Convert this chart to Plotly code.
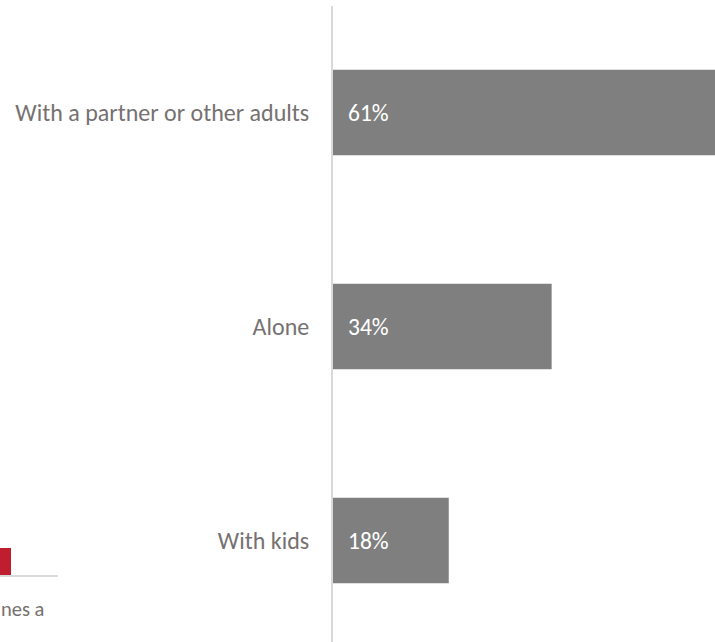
import plotly.graph_objects as go

categories = ["With a partner or other adults", "Alone", "With kids"]
values = [61, 34, 18]
value_labels = ["61%", "34%", "18%"]

W, H = 715, 642
L, R, T, B = 333, 0, 6, 0
pw, ph = W - L - R, H - T - B

def px2paper_x(px):
    return (px - L) / pw

def px2paper_y(py):
    return (H - B - py) / ph

positions = list(range(len(categories)))
FONT = "Carlito, Calibri, Lato, sans-serif"

fig = go.Figure()
fig.add_trace(go.Bar(
    x=values, y=positions, orientation="h",
    marker=dict(color="#7f7f7f", line=dict(width=0)),
    width=0.4, showlegend=False, hoverinfo="skip",
))

for v, p, t in zip(values, positions, value_labels):
    fig.add_annotation(x=0, y=p, xref="x", yref="y", text=t, showarrow=False,
                       xanchor="left", yanchor="middle", xshift=13,
                       font=dict(family=FONT, size=23.5, color="#ffffff"))

# cropped fragment of a neighbouring panel at bottom-left
fig.add_shape(type="rect", xref="paper", yref="paper",
              x0=px2paper_x(0), x1=px2paper_x(11), y0=px2paper_y(575), y1=px2paper_y(548),
              fillcolor="#be1e2d", line=dict(width=0), layer="above")
fig.add_shape(type="line", xref="paper", yref="paper",
              x0=px2paper_x(0), x1=px2paper_x(58), y0=px2paper_y(576), y1=px2paper_y(576),
              line=dict(color="#d9d9d9", width=2))
fig.add_annotation(xref="paper", yref="paper", x=px2paper_x(-1), y=px2paper_y(609),
                   text="nes a", showarrow=False, xanchor="left", yanchor="middle",
                   font=dict(family=FONT, size=20.5, color="#767171"))

fig.update_layout(
    width=W, height=H,
    margin=dict(l=L, r=R, t=T, b=B, pad=0),
    paper_bgcolor="white", plot_bgcolor="white",
    bargap=0.6,
    xaxis=dict(range=[0, 59.4], visible=False, showgrid=False, zeroline=False),
    yaxis=dict(range=[2.474, -0.498], tickvals=positions, ticktext=categories,
               showline=True, linecolor="#d9d9d9", linewidth=2,
               showgrid=False, zeroline=False,
               ticks="outside", ticklen=17, tickcolor="rgba(0,0,0,0)",
               tickfont=dict(family=FONT, size=24, color="#767171")),
)

fig.write_html("out.html")
